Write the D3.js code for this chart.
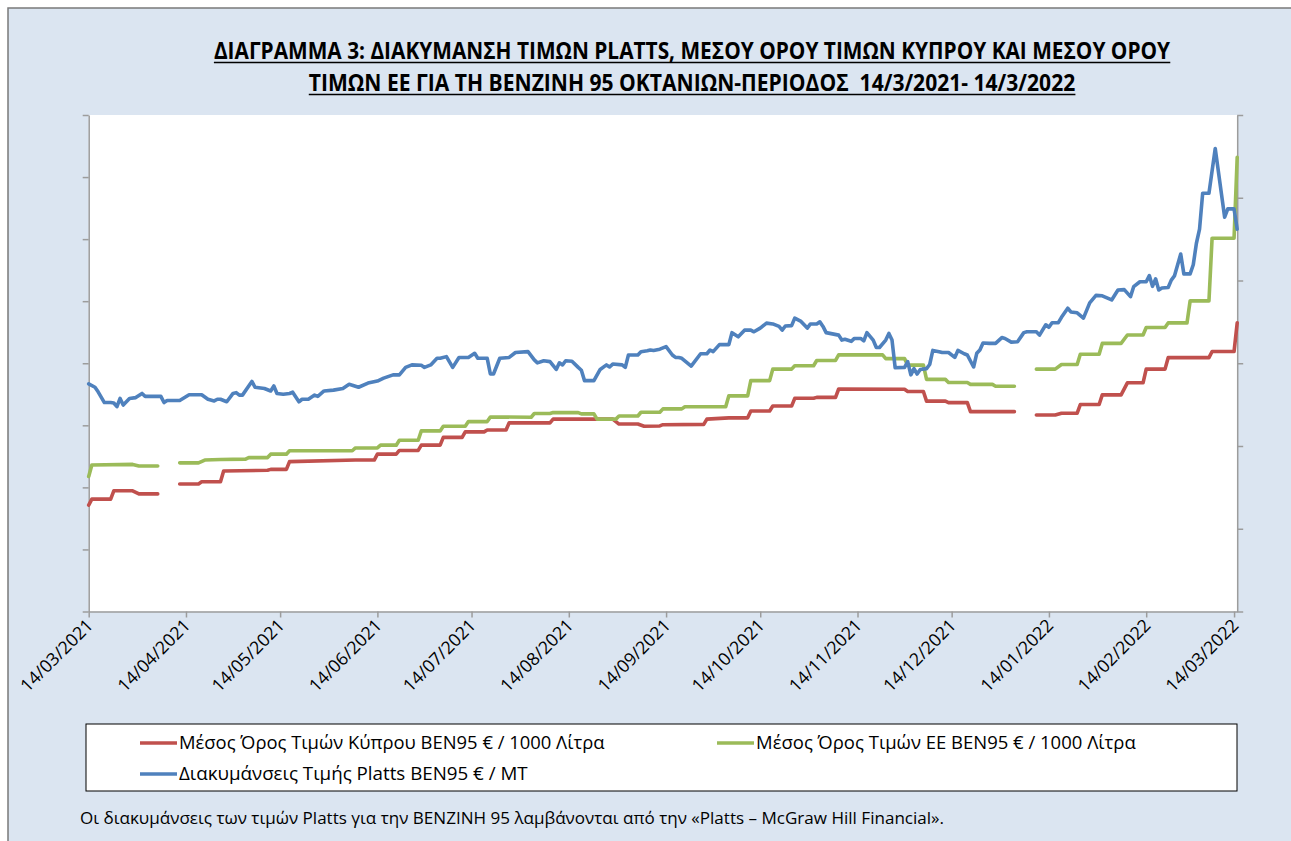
<!DOCTYPE html>
<html>
<head>
<meta charset="utf-8">
<script src="https://cdn.jsdelivr.net/npm/d3@7"></script>
<style>
	body { margin: 0; background: #ffffff; }
	svg { display: block; }
	text { font-family: "Open Sans", "Noto Sans", sans-serif; fill: #000; }
</style>
</head>
<body>
<svg id="grafico"></svg>
<script>
// Dates are stored as days after the first date of the period
const START = "14/03/2021";

const tickLabels = ["14/03/2021", "14/04/2021", "14/05/2021", "14/06/2021", "14/07/2021",
	"14/08/2021", "14/09/2021", "14/10/2021", "14/11/2021", "14/12/2021",
	"14/01/2022", "14/02/2022", "14/03/2022"];

const titleLines = [
	"ΔΙΑΓΡΑΜΜΑ 3: ΔΙΑΚΥΜΑΝΣΗ ΤΙΜΩΝ PLATTS, ΜΕΣΟΥ ΟΡΟΥ ΤΙΜΩΝ ΚΥΠΡΟΥ ΚΑΙ ΜΕΣΟΥ ΟΡΟΥ",
	"ΤΙΜΩΝ ΕΕ ΓΙΑ ΤΗ ΒΕΝΖΙΝΗ 95 ΟΚΤΑΝΙΩΝ-ΠΕΡΙΟΔΟΣ  14/3/2021- 14/3/2022"
];

const seriesNames = [
	"Μέσος Όρος Τιμών Κύπρου ΒΕΝ95 € / 1000 Λίτρα",
	"Μέσος Όρος Τιμών ΕΕ ΒΕΝ95 € / 1000 Λίτρα",
	"Διακυμάνσεις Τιμής Platts ΒΕΝ95 € / MT"
];

const footnote = "Οι διακυμάνσεις των τιμών Platts για την ΒΕΝΖΙΝΗ 95 λαμβάνονται από την «Platts – McGraw Hill Financial».";

// Cyprus average (€ / 1000 L), left axis. null = no data
const cyprusDays = [0,1,7,8,14,16,22,25,29,35,36,42,43,57,58,63,64,85,91,92,
	98,99,105,106,112,113,119,120,126,127,133,134,147,148,167,169,175,177,182,183,
	196,197,204,210,211,217,218,224,225,231,232,238,239,260,261,266,267,273,274,280,
	281,295,298,302,308,310,315,316,322,323,329,331,336,337,343,344,357,358,365,366];
const cyprusValues = [1143,1162,1162,1189,1189,1179,1179,null,1211,1211,
	1218,1218,1253,1255,1258,1258,1283,1288,1288,1307,
	1307,1319,1319,1336,1336,1361,1361,1379,1379,1385,
	1385,1408,1408,1420,1420,1404,1404,1397,1398,1402,
	1403,1420,1424,1424,1446,1446,1462,1462,1487,1487,
	1490,1490,1517,1516,1509,1509,1478,1478,1473,1473,
	1444,1444,null,1433,1433,1439,1439,1467,1467,1498,
	1498,1537,1537,1581,1581,1618,1618,1638,1638,1730];

// EU average (€ / 1000 L), left axis
const euDays = [0,1,14,16,22,25,29,35,37,42,50,51,57,58,63,64,84,85,92,93,98,99,
	105,106,112,113,120,121,127,128,141,142,147,148,156,157,161,162,168,169,175,176,
	182,183,189,190,203,204,210,211,217,218,224,225,231,232,238,239,253,254,260,261,
	266,267,273,274,280,281,288,289,295,298,302,308,310,315,316,322,323,329,331,336,
	337,343,344,350,351,357,358,365,366];
const euValues = [1235,1272,1274,1269,1269,null,1279,1279,1288,1290,1291,1296,1296,1307,1307,1318,
	1318,1327,1327,1336,1336,1352,1352,1382,1382,1397,
	1397,1412,1412,1427,1426,1438,1438,1441,1441,1437,
	1437,1420,1420,1430,1430,1442,1442,1453,1453,1460,
	1460,1495,1495,1544,1544,1581,1581,1592,1592,1609,
	1609,1627,1627,1615,1615,1594,1594,1548,1548,1538,
	1538,1532,1532,1526,1526,null,1581,1581,1596,1596,1629,1629,1664,1664,1691,1691,
	1715,1715,1730,1730,1801,1801,2003,2003,2264];

// Platts (€ / MT), right axis
const plattsDays = [0,2,3,5,7,8,9,10,11,13,15,17,18,23,24,25,29,32,36,38,
	40,41,42,44,46,47,48,49,51,52,53,56,58,59,60,62,64,65,67,68,
	70,72,73,75,78,81,83,84,86,89,92,94,97,99,101,103,106,107,109,111,
	112,114,116,118,121,123,124,127,128,129,131,134,136,140,142,143,145,147,149,150,
	151,152,154,156,157,158,161,163,165,166,167,170,171,172,175,176,178,179,180,182,
	184,186,187,188,189,192,195,197,198,199,201,204,205,207,209,211,212,214,216,218,
	220,221,222,224,225,227,229,230,232,233,234,235,237,239,240,241,243,244,246,247,
	248,250,251,252,254,255,256,257,260,261,262,263,264,265,267,268,269,271,272,274,
	276,277,279,280,282,283,284,285,287,289,291,292,294,296,298,299,302,303,305,306,
	307,309,310,312,313,315,317,319,321,323,326,328,330,332,333,335,337,338,339,340,
	341,342,344,345,346,348,349,351,352,353,354,355,357,359,362,363,365,366];
const plattsValues = [550,542,531,505,505,504,495,515,499,515,517,527,520,520,505,510,510,524,524,513,
	509,513,513,507,527,529,523,523,545,556,542,539,533,545,527,525,527,530,507,513,
	513,523,520,533,535,539,549,547,542,552,557,564,572,572,590,596,595,590,596,612,
	612,616,590,614,614,624,612,612,574,574,612,614,626,628,608,601,606,604,585,601,
	596,606,605,590,583,558,558,585,596,591,598,596,590,620,620,628,630,632,631,634,
	640,620,614,614,612,593,623,623,632,628,645,645,674,664,680,680,676,685,697,695,
	689,680,690,691,709,701,685,695,695,700,689,674,671,668,656,658,653,660,660,654,
	674,656,638,638,656,672,656,589,590,604,572,587,574,585,587,597,631,628,626,626,
	614,631,623,620,591,624,632,649,648,648,662,660,651,652,674,676,676,668,693,687,
	698,698,711,733,724,722,709,746,764,763,753,777,778,761,785,797,797,812,786,804,
	777,782,783,801,811,864,816,816,838,890,924,1011,1011,1119,953,973,973,924];

const COLORS = ["#c0504d", "#9bbb59", "#4f81bd"];
const AXIS_COLOR = "#9c9c9c";
const LINE_WIDTH = 3.6;

const WIDTH = 1291,
	HEIGHT = 841;

const plot = {
	left: 88.7,
	right: 1237.2,
	top: 115,
	bottom: 611.5
};

const parseDate = d3.utcParse("%d/%m/%Y");
const startDate = parseDate(START);

const armarSerie = (days, values) =>
	days.map((d, i) => ({ date: d3.utcDay.offset(startDate, d), value: values[i] }));

const series = [
	{ name: seriesNames[0], data: armarSerie(cyprusDays, cyprusValues), axis: "left" },
	{ name: seriesNames[1], data: armarSerie(euDays, euValues), axis: "left" },
	{ name: seriesNames[2], data: armarSerie(plattsDays, plattsValues), axis: "right" }
];

// scale text so that it takes a given length
const ajustarAncho = (sel, target) => {
	const w = sel.node().getComputedTextLength();
	const fs = parseFloat(sel.attr("font-size"));
	sel.attr("font-size", fs * target / w);
	return fs * target / w;
};

const svg = d3.select("#grafico")
	.attr("width", WIDTH)
	.attr("height", HEIGHT);

// chart area background with its frame
svg.append("rect")
	.attr("x", 8)
	.attr("y", 8)
	.attr("width", WIDTH + 10)
	.attr("height", HEIGHT + 10)
	.attr("fill", "#dbe5f1")
	.attr("stroke", "#7a7a7a")
	.attr("stroke-width", 1.5);

svg.append("rect")
	.attr("x", plot.left)
	.attr("y", plot.top)
	.attr("width", plot.right - plot.left)
	.attr("height", plot.bottom - plot.top)
	.attr("fill", "#ffffff");

// title, underlined (stretched a little in height, Calibri is narrower)
titleLines.forEach((t, i) => {
	const y = 59 + i * 32;
	const g = svg.append("g")
		.attr("transform", `translate(692 ${y}) scale(1 1.12)`);
	const txt = g.append("text")
		.attr("x", 0)
		.attr("y", 0)
		.attr("text-anchor", "middle")
		.attr("font-weight", "bold")
		.attr("font-size", 18)
		.style("white-space", "pre")
		.text(t);
	ajustarAncho(txt, [957, 767][i]);
	const bb = txt.node().getBBox();
	svg.append("line")
		.attr("x1", 692 + bb.x)
		.attr("x2", 692 + bb.x + bb.width)
		.attr("y1", y + 3.5)
		.attr("y2", y + 3.5)
		.attr("stroke", "#000")
		.attr("stroke-width", 1.4);
});

// scales
const escalaX = d3.scaleUtc()
	.domain([startDate, d3.utcDay.offset(parseDate(tickLabels[tickLabels.length - 1]), 1)])
	.range([plot.left, plot.right]);

const escalaIzq = d3.scaleLinear()
	.domain([800, 2400])
	.range([plot.bottom, plot.top]);

const escalaDer = d3.scaleLinear()
	.domain([0, 1200])
	.range([plot.bottom, plot.top]);

// axes (no value labels on the y axes)
const ejeIzq = svg.append("g")
	.attr("transform", `translate(${plot.left} 0)`)
	.call(d3.axisLeft(escalaIzq).tickValues(d3.range(800, 2401, 200)).tickSize(6).tickSizeOuter(0).tickFormat(""));

const ejeDer = svg.append("g")
	.attr("transform", `translate(${plot.right} 0)`)
	.call(d3.axisRight(escalaDer).tickValues(d3.range(0, 1201, 200)).tickSize(6).tickSizeOuter(0).tickFormat(""));

const ejeX = svg.append("g")
	.attr("transform", `translate(0 ${plot.bottom})`)
	.call(d3.axisBottom(escalaX)
		.tickValues(tickLabels.map(parseDate))
		.tickSize(6)
		.tickSizeOuter(0)
		.tickFormat((d, i) => tickLabels[i]));

[ejeIzq, ejeDer, ejeX].forEach(g => {
	g.select(".domain").attr("stroke", AXIS_COLOR).attr("stroke-width", 1.5);
	g.selectAll(".tick line").attr("stroke", AXIS_COLOR).attr("stroke-width", 1.5);
});

const etiquetas = ejeX.selectAll(".tick text")
	.attr("fill", "#000")
	.attr("font-family", null)
	.attr("font-size", 16)
	.attr("x", 0)
	.attr("y", 0)
	.attr("dy", 0)
	.attr("text-anchor", "end")
	.attr("transform", "translate(5 15) rotate(-45)");
const fsTicks = ajustarAncho(d3.select(etiquetas.node()), 94);
etiquetas.attr("font-size", fsTicks);

// lines
const contenedorLineas = svg.append("g");

series.forEach((s, i) => {
	const escalaY = s.axis === "left" ? escalaIzq : escalaDer;
	const linea = d3.line()
		.defined(d => d.value !== null)
		.x(d => escalaX(d.date))
		.y(d => escalaY(d.value));
	contenedorLineas.append("path")
		.datum(s.data)
		.attr("d", linea)
		.attr("fill", "none")
		.attr("stroke", COLORS[i])
		.attr("stroke-width", LINE_WIDTH)
		.attr("stroke-linejoin", "round")
		.attr("stroke-linecap", "round");
});

// legend
svg.append("rect")
	.attr("x", 86)
	.attr("y", 724)
	.attr("width", 1151)
	.attr("height", 67)
	.attr("fill", "#ffffff")
	.attr("stroke", "#000")
	.attr("stroke-width", 1);

const posLeyenda = [[140, 743, 426], [717, 743, 380], [140, 774, 349]];

const leyenda = svg.append("g")
	.selectAll("g")
	.data(series)
	.join("g")
	.attr("transform", (_, i) => `translate(${posLeyenda[i][0]} ${posLeyenda[i][1]})`);

leyenda.append("line")
	.attr("x1", 0)
	.attr("x2", 37)
	.attr("stroke", (_, i) => COLORS[i])
	.attr("stroke-width", LINE_WIDTH);

leyenda.append("text")
	.attr("x", 39)
	.attr("y", 6)
	.attr("font-size", 17)
	.text(d => d.name)
	.each(function (_, i) { ajustarAncho(d3.select(this), posLeyenda[i][2]); });

// footnote
const nota = svg.append("text")
	.attr("x", 80)
	.attr("y", 824)
	.attr("font-size", 15)
	.text(footnote);
ajustarAncho(nota, 865);
</script>
</body>
</html>
